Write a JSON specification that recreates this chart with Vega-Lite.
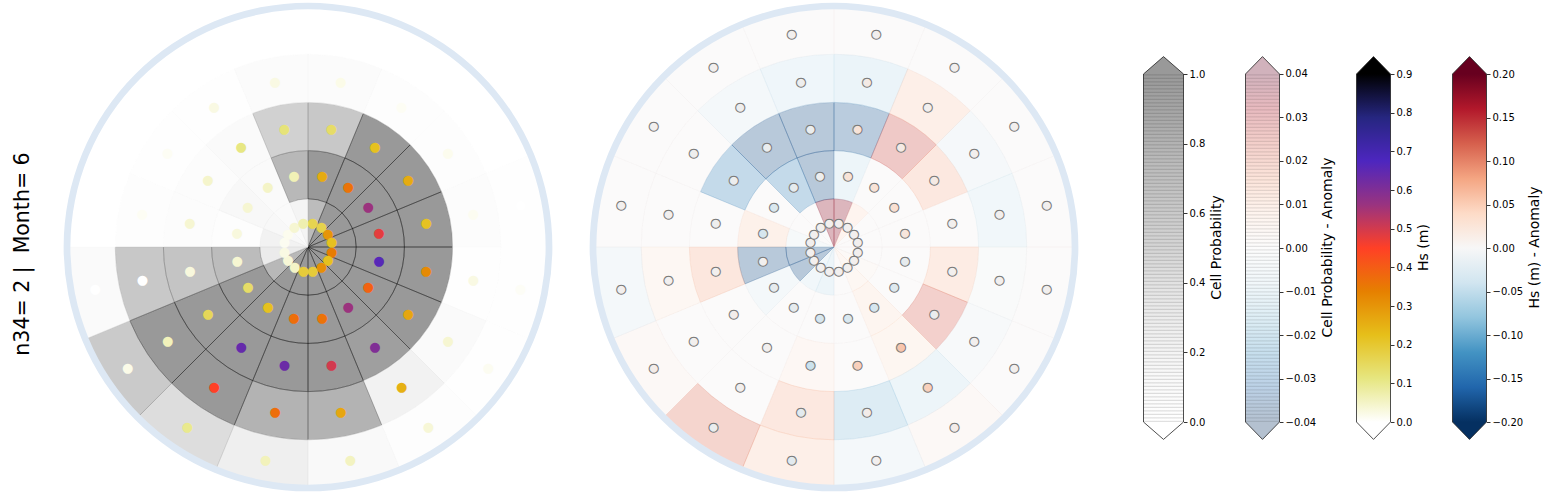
{
"$schema": "https://vega.github.io/schema/vega-lite/v6.json",
"padding": {"left": 12, "top": 2, "right": 5, "bottom": 2},
"background": "white",
"title": {"text": "n34= 2 |\u00a0 Month= 6", "orient": "left", "anchor": "middle", "fontSize": 20.5, "font": "DejaVu Sans", "fontWeight": "normal", "color": "#000", "offset": 30, "dx": -7},
"config": {"view": {"stroke": null}, "font": "DejaVu Sans"},
"datasets": {
"L": [
{"d":0,"d2":22.5,"dm":11.25,"r":0,"r2":1,"rm":0.5,"p":0.73,"hs":0.165},
{"d":22.5,"d2":45,"dm":33.75,"r":0,"r2":1,"rm":0.5,"p":1,"hs":0.17},
{"d":45,"d2":67.5,"dm":56.25,"r":0,"r2":1,"rm":0.5,"p":1,"hs":0.30},
{"d":67.5,"d2":90,"dm":78.75,"r":0,"r2":1,"rm":0.5,"p":1,"hs":0.22},
{"d":90,"d2":112.5,"dm":101.25,"r":0,"r2":1,"rm":0.5,"p":1,"hs":0.345},
{"d":112.5,"d2":135,"dm":123.75,"r":0,"r2":1,"rm":0.5,"p":1,"hs":0.22},
{"d":135,"d2":157.5,"dm":146.25,"r":0,"r2":1,"rm":0.5,"p":1,"hs":0.31},
{"d":157.5,"d2":180,"dm":168.75,"r":0,"r2":1,"rm":0.5,"p":1,"hs":0.19},
{"d":180,"d2":202.5,"dm":191.25,"r":0,"r2":1,"rm":0.5,"p":1,"hs":0.19},
{"d":202.5,"d2":225,"dm":213.75,"r":0,"r2":1,"rm":0.5,"p":1,"hs":0.05},
{"d":225,"d2":247.5,"dm":236.25,"r":0,"r2":1,"rm":0.5,"p":0.76,"hs":0.035},
{"d":247.5,"d2":270,"dm":258.75,"r":0,"r2":1,"rm":0.5,"p":0.30,"hs":0.025},
{"d":270,"d2":292.5,"dm":281.25,"r":0,"r2":1,"rm":0.5,"p":0.22,"hs":0.012},
{"d":292.5,"d2":315,"dm":303.75,"r":0,"r2":1,"rm":0.5,"p":0.14,"hs":0.015},
{"d":315,"d2":337.5,"dm":326.25,"r":0,"r2":1,"rm":0.5,"p":0.10,"hs":0.04},
{"d":337.5,"d2":360,"dm":348.75,"r":0,"r2":1,"rm":0.5,"p":0.19,"hs":0.07},
{"d":0,"d2":22.5,"dm":11.25,"r":1,"r2":2,"rm":1.5,"p":1,"hs":0.26},
{"d":22.5,"d2":45,"dm":33.75,"r":1,"r2":2,"rm":1.5,"p":1,"hs":0.36},
{"d":45,"d2":67.5,"dm":56.25,"r":1,"r2":2,"rm":1.5,"p":1,"hs":0.56},
{"d":67.5,"d2":90,"dm":78.75,"r":1,"r2":2,"rm":1.5,"p":1,"hs":0.48},
{"d":90,"d2":112.5,"dm":101.25,"r":1,"r2":2,"rm":1.5,"p":1,"hs":0.66},
{"d":112.5,"d2":135,"dm":123.75,"r":1,"r2":2,"rm":1.5,"p":1,"hs":0.39},
{"d":135,"d2":157.5,"dm":146.25,"r":1,"r2":2,"rm":1.5,"p":1,"hs":0.56},
{"d":157.5,"d2":180,"dm":168.75,"r":1,"r2":2,"rm":1.5,"p":1,"hs":0.36},
{"d":180,"d2":202.5,"dm":191.25,"r":1,"r2":2,"rm":1.5,"p":1,"hs":0.37},
{"d":202.5,"d2":225,"dm":213.75,"r":1,"r2":2,"rm":1.5,"p":1,"hs":0.22},
{"d":225,"d2":247.5,"dm":236.25,"r":1,"r2":2,"rm":1.5,"p":1,"hs":0.14},
{"d":247.5,"d2":270,"dm":258.75,"r":1,"r2":2,"rm":1.5,"p":0.73,"hs":0.04},
{"d":270,"d2":292.5,"dm":281.25,"r":1,"r2":2,"rm":1.5,"p":0.04,"hs":0.03},
{"d":292.5,"d2":315,"dm":303.75,"r":1,"r2":2,"rm":1.5,"p":0.14,"hs":0.04},
{"d":315,"d2":337.5,"dm":326.25,"r":1,"r2":2,"rm":1.5,"p":0.10,"hs":0.05},
{"d":337.5,"d2":360,"dm":348.75,"r":1,"r2":2,"rm":1.5,"p":0.76,"hs":0.065},
{"d":0,"d2":22.5,"dm":11.25,"r":2,"r2":3,"rm":2.5,"p":0.615,"hs":0.14},
{"d":22.5,"d2":45,"dm":33.75,"r":2,"r2":3,"rm":2.5,"p":1,"hs":0.22},
{"d":45,"d2":67.5,"dm":56.25,"r":2,"r2":3,"rm":2.5,"p":1,"hs":0.26},
{"d":67.5,"d2":90,"dm":78.75,"r":2,"r2":3,"rm":2.5,"p":1,"hs":0.215},
{"d":90,"d2":112.5,"dm":101.25,"r":2,"r2":3,"rm":2.5,"p":1,"hs":0.32},
{"d":112.5,"d2":135,"dm":123.75,"r":2,"r2":3,"rm":2.5,"p":1,"hs":0.27},
{"d":135,"d2":157.5,"dm":146.25,"r":2,"r2":3,"rm":2.5,"p":0.95,"hs":0.60},
{"d":157.5,"d2":180,"dm":168.75,"r":2,"r2":3,"rm":2.5,"p":1,"hs":0.50},
{"d":180,"d2":202.5,"dm":191.25,"r":2,"r2":3,"rm":2.5,"p":1,"hs":0.63},
{"d":202.5,"d2":225,"dm":213.75,"r":2,"r2":3,"rm":2.5,"p":1,"hs":0.64},
{"d":225,"d2":247.5,"dm":236.25,"r":2,"r2":3,"rm":2.5,"p":1,"hs":0.155},
{"d":247.5,"d2":270,"dm":258.75,"r":2,"r2":3,"rm":2.5,"p":0.65,"hs":0.03},
{"d":270,"d2":292.5,"dm":281.25,"r":2,"r2":3,"rm":2.5,"p":0.06,"hs":0.04},
{"d":292.5,"d2":315,"dm":303.75,"r":2,"r2":3,"rm":2.5,"p":0.06,"hs":0.045},
{"d":315,"d2":337.5,"dm":326.25,"r":2,"r2":3,"rm":2.5,"p":0.10,"hs":0.11},
{"d":337.5,"d2":360,"dm":348.75,"r":2,"r2":3,"rm":2.5,"p":0.54,"hs":0.12},
{"d":0,"d2":22.5,"dm":11.25,"r":3,"r2":4,"rm":3.5,"p":0.08,"hs":0.02},
{"d":22.5,"d2":45,"dm":33.75,"r":3,"r2":4,"rm":3.5,"p":0.04,"hs":0.01},
{"d":45,"d2":67.5,"dm":56.25,"r":3,"r2":4,"rm":3.5,"p":0.03,"hs":0.015},
{"d":67.5,"d2":90,"dm":78.75,"r":3,"r2":4,"rm":3.5,"p":0.06,"hs":0.012},
{"d":90,"d2":112.5,"dm":101.25,"r":3,"r2":4,"rm":3.5,"p":0.02,"hs":0.025},
{"d":112.5,"d2":135,"dm":123.75,"r":3,"r2":4,"rm":3.5,"p":0.10,"hs":0.04},
{"d":135,"d2":157.5,"dm":146.25,"r":3,"r2":4,"rm":3.5,"p":0.22,"hs":0.25},
{"d":157.5,"d2":180,"dm":168.75,"r":3,"r2":4,"rm":3.5,"p":0.80,"hs":0.27},
{"d":180,"d2":202.5,"dm":191.25,"r":3,"r2":4,"rm":3.5,"p":0.80,"hs":0.37},
{"d":202.5,"d2":225,"dm":213.75,"r":3,"r2":4,"rm":3.5,"p":1,"hs":0.45},
{"d":225,"d2":247.5,"dm":236.25,"r":3,"r2":4,"rm":3.5,"p":1,"hs":0.06},
{"d":247.5,"d2":270,"dm":258.75,"r":3,"r2":4,"rm":3.5,"p":0.615,"hs":0},
{"d":270,"d2":292.5,"dm":281.25,"r":3,"r2":4,"rm":3.5,"p":0.03,"hs":0.01},
{"d":292.5,"d2":315,"dm":303.75,"r":3,"r2":4,"rm":3.5,"p":0.02,"hs":0.01},
{"d":315,"d2":337.5,"dm":326.25,"r":3,"r2":4,"rm":3.5,"p":0.02,"hs":0.025},
{"d":337.5,"d2":360,"dm":348.75,"r":3,"r2":4,"rm":3.5,"p":0.08,"hs":0.025},
{"d":0,"d2":22.5,"dm":11.25,"r":4,"r2":5,"rm":4.5,"p":0,"hs":0},
{"d":22.5,"d2":45,"dm":33.75,"r":4,"r2":5,"rm":4.5,"p":0,"hs":0},
{"d":45,"d2":67.5,"dm":56.25,"r":4,"r2":5,"rm":4.5,"p":0,"hs":0},
{"d":67.5,"d2":90,"dm":78.75,"r":4,"r2":5,"rm":4.5,"p":0.02,"hs":0},
{"d":90,"d2":112.5,"dm":101.25,"r":4,"r2":5,"rm":4.5,"p":0.02,"hs":0.008},
{"d":112.5,"d2":135,"dm":123.75,"r":4,"r2":5,"rm":4.5,"p":0.02,"hs":0.012},
{"d":135,"d2":157.5,"dm":146.25,"r":4,"r2":5,"rm":4.5,"p":0.04,"hs":0.035},
{"d":157.5,"d2":180,"dm":168.75,"r":4,"r2":5,"rm":4.5,"p":0.12,"hs":0.055},
{"d":180,"d2":202.5,"dm":191.25,"r":4,"r2":5,"rm":4.5,"p":0.26,"hs":0.06},
{"d":202.5,"d2":225,"dm":213.75,"r":4,"r2":5,"rm":4.5,"p":0.44,"hs":0.10},
{"d":225,"d2":247.5,"dm":236.25,"r":4,"r2":5,"rm":4.5,"p":0.60,"hs":0.02},
{"d":247.5,"d2":270,"dm":258.75,"r":4,"r2":5,"rm":4.5,"p":0.10,"hs":0},
{"d":270,"d2":292.5,"dm":281.25,"r":4,"r2":5,"rm":4.5,"p":0,"hs":0},
{"d":292.5,"d2":315,"dm":303.75,"r":4,"r2":5,"rm":4.5,"p":0,"hs":0},
{"d":315,"d2":337.5,"dm":326.25,"r":4,"r2":5,"rm":4.5,"p":0,"hs":0},
{"d":337.5,"d2":360,"dm":348.75,"r":4,"r2":5,"rm":4.5,"p":0,"hs":0}
],
"R": [
{"d":0,"d2":22.5,"dm":11.25,"r":0,"r2":1,"rm":0.5,"p":0.04,"ha":0},
{"d":22.5,"d2":45,"dm":33.75,"r":0,"r2":1,"rm":0.5,"p":0.008,"ha":0},
{"d":45,"d2":67.5,"dm":56.25,"r":0,"r2":1,"rm":0.5,"p":0,"ha":0},
{"d":67.5,"d2":90,"dm":78.75,"r":0,"r2":1,"rm":0.5,"p":0,"ha":0},
{"d":90,"d2":112.5,"dm":101.25,"r":0,"r2":1,"rm":0.5,"p":0,"ha":0},
{"d":112.5,"d2":135,"dm":123.75,"r":0,"r2":1,"rm":0.5,"p":0.002,"ha":0},
{"d":135,"d2":157.5,"dm":146.25,"r":0,"r2":1,"rm":0.5,"p":0.005,"ha":0},
{"d":157.5,"d2":180,"dm":168.75,"r":0,"r2":1,"rm":0.5,"p":0,"ha":0},
{"d":180,"d2":202.5,"dm":191.25,"r":0,"r2":1,"rm":0.5,"p":-0.01,"ha":0},
{"d":202.5,"d2":225,"dm":213.75,"r":0,"r2":1,"rm":0.5,"p":-0.008,"ha":0},
{"d":225,"d2":247.5,"dm":236.25,"r":0,"r2":1,"rm":0.5,"p":-0.04,"ha":0},
{"d":247.5,"d2":270,"dm":258.75,"r":0,"r2":1,"rm":0.5,"p":-0.04,"ha":0},
{"d":270,"d2":292.5,"dm":281.25,"r":0,"r2":1,"rm":0.5,"p":-0.004,"ha":0},
{"d":292.5,"d2":315,"dm":303.75,"r":0,"r2":1,"rm":0.5,"p":0,"ha":0},
{"d":315,"d2":337.5,"dm":326.25,"r":0,"r2":1,"rm":0.5,"p":0,"ha":0},
{"d":337.5,"d2":360,"dm":348.75,"r":0,"r2":1,"rm":0.5,"p":0.04,"ha":0},
{"d":0,"d2":22.5,"dm":11.25,"r":1,"r2":2,"rm":1.5,"p":-0.01,"ha":0.025},
{"d":22.5,"d2":45,"dm":33.75,"r":1,"r2":2,"rm":1.5,"p":0,"ha":0.025},
{"d":45,"d2":67.5,"dm":56.25,"r":1,"r2":2,"rm":1.5,"p":0,"ha":0.03},
{"d":67.5,"d2":90,"dm":78.75,"r":1,"r2":2,"rm":1.5,"p":0,"ha":0.02},
{"d":90,"d2":112.5,"dm":101.25,"r":1,"r2":2,"rm":1.5,"p":0,"ha":-0.015},
{"d":112.5,"d2":135,"dm":123.75,"r":1,"r2":2,"rm":1.5,"p":0,"ha":-0.025},
{"d":135,"d2":157.5,"dm":146.25,"r":1,"r2":2,"rm":1.5,"p":0.007,"ha":-0.035},
{"d":157.5,"d2":180,"dm":168.75,"r":1,"r2":2,"rm":1.5,"p":0,"ha":-0.03},
{"d":180,"d2":202.5,"dm":191.25,"r":1,"r2":2,"rm":1.5,"p":0,"ha":-0.035},
{"d":202.5,"d2":225,"dm":213.75,"r":1,"r2":2,"rm":1.5,"p":0,"ha":-0.015},
{"d":225,"d2":247.5,"dm":236.25,"r":1,"r2":2,"rm":1.5,"p":-0.006,"ha":-0.015},
{"d":247.5,"d2":270,"dm":258.75,"r":1,"r2":2,"rm":1.5,"p":-0.04,"ha":0},
{"d":270,"d2":292.5,"dm":281.25,"r":1,"r2":2,"rm":1.5,"p":0.01,"ha":-0.035},
{"d":292.5,"d2":315,"dm":303.75,"r":1,"r2":2,"rm":1.5,"p":0,"ha":-0.03},
{"d":315,"d2":337.5,"dm":326.25,"r":1,"r2":2,"rm":1.5,"p":-0.03,"ha":-0.015},
{"d":337.5,"d2":360,"dm":348.75,"r":1,"r2":2,"rm":1.5,"p":-0.04,"ha":-0.005},
{"d":0,"d2":22.5,"dm":11.25,"r":2,"r2":3,"rm":2.5,"p":-0.038,"ha":0.025},
{"d":22.5,"d2":45,"dm":33.75,"r":2,"r2":3,"rm":2.5,"p":0.029,"ha":0.01},
{"d":45,"d2":67.5,"dm":56.25,"r":2,"r2":3,"rm":2.5,"p":0.015,"ha":0.01},
{"d":67.5,"d2":90,"dm":78.75,"r":2,"r2":3,"rm":2.5,"p":0,"ha":0},
{"d":90,"d2":112.5,"dm":101.25,"r":2,"r2":3,"rm":2.5,"p":0.013,"ha":0},
{"d":112.5,"d2":135,"dm":123.75,"r":2,"r2":3,"rm":2.5,"p":0.026,"ha":-0.01},
{"d":135,"d2":157.5,"dm":146.25,"r":2,"r2":3,"rm":2.5,"p":0.006,"ha":0.06},
{"d":157.5,"d2":180,"dm":168.75,"r":2,"r2":3,"rm":2.5,"p":0,"ha":0.05},
{"d":180,"d2":202.5,"dm":191.25,"r":2,"r2":3,"rm":2.5,"p":0.004,"ha":-0.045},
{"d":202.5,"d2":225,"dm":213.75,"r":2,"r2":3,"rm":2.5,"p":0,"ha":0},
{"d":225,"d2":247.5,"dm":236.25,"r":2,"r2":3,"rm":2.5,"p":0,"ha":0.003},
{"d":247.5,"d2":270,"dm":258.75,"r":2,"r2":3,"rm":2.5,"p":0.016,"ha":0},
{"d":270,"d2":292.5,"dm":281.25,"r":2,"r2":3,"rm":2.5,"p":0,"ha":-0.005},
{"d":292.5,"d2":315,"dm":303.75,"r":2,"r2":3,"rm":2.5,"p":-0.03,"ha":-0.008},
{"d":315,"d2":337.5,"dm":326.25,"r":2,"r2":3,"rm":2.5,"p":-0.04,"ha":-0.01},
{"d":337.5,"d2":360,"dm":348.75,"r":2,"r2":3,"rm":2.5,"p":-0.04,"ha":-0.01},
{"d":0,"d2":22.5,"dm":11.25,"r":3,"r2":4,"rm":3.5,"p":-0.011,"ha":0.01},
{"d":22.5,"d2":45,"dm":33.75,"r":3,"r2":4,"rm":3.5,"p":0.011,"ha":0},
{"d":45,"d2":67.5,"dm":56.25,"r":3,"r2":4,"rm":3.5,"p":-0.005,"ha":0},
{"d":67.5,"d2":90,"dm":78.75,"r":3,"r2":4,"rm":3.5,"p":-0.008,"ha":0},
{"d":90,"d2":112.5,"dm":101.25,"r":3,"r2":4,"rm":3.5,"p":-0.002,"ha":0},
{"d":112.5,"d2":135,"dm":123.75,"r":3,"r2":4,"rm":3.5,"p":-0.003,"ha":0},
{"d":135,"d2":157.5,"dm":146.25,"r":3,"r2":4,"rm":3.5,"p":-0.01,"ha":0.05},
{"d":157.5,"d2":180,"dm":168.75,"r":3,"r2":4,"rm":3.5,"p":-0.018,"ha":0.005},
{"d":180,"d2":202.5,"dm":191.25,"r":3,"r2":4,"rm":3.5,"p":0.015,"ha":-0.02},
{"d":202.5,"d2":225,"dm":213.75,"r":3,"r2":4,"rm":3.5,"p":0,"ha":0},
{"d":225,"d2":247.5,"dm":236.25,"r":3,"r2":4,"rm":3.5,"p":0,"ha":0},
{"d":247.5,"d2":270,"dm":258.75,"r":3,"r2":4,"rm":3.5,"p":0.005,"ha":0},
{"d":270,"d2":292.5,"dm":281.25,"r":3,"r2":4,"rm":3.5,"p":0,"ha":0},
{"d":292.5,"d2":315,"dm":303.75,"r":3,"r2":4,"rm":3.5,"p":0,"ha":-0.005},
{"d":315,"d2":337.5,"dm":326.25,"r":3,"r2":4,"rm":3.5,"p":-0.006,"ha":-0.005},
{"d":337.5,"d2":360,"dm":348.75,"r":3,"r2":4,"rm":3.5,"p":-0.009,"ha":-0.005},
{"d":0,"d2":22.5,"dm":11.25,"r":4,"r2":5,"rm":4.5,"p":0,"ha":0},
{"d":22.5,"d2":45,"dm":33.75,"r":4,"r2":5,"rm":4.5,"p":0,"ha":0},
{"d":45,"d2":67.5,"dm":56.25,"r":4,"r2":5,"rm":4.5,"p":0,"ha":0},
{"d":67.5,"d2":90,"dm":78.75,"r":4,"r2":5,"rm":4.5,"p":0,"ha":0},
{"d":90,"d2":112.5,"dm":101.25,"r":4,"r2":5,"rm":4.5,"p":0,"ha":0},
{"d":112.5,"d2":135,"dm":123.75,"r":4,"r2":5,"rm":4.5,"p":0,"ha":0},
{"d":135,"d2":157.5,"dm":146.25,"r":4,"r2":5,"rm":4.5,"p":0.003,"ha":0.005},
{"d":157.5,"d2":180,"dm":168.75,"r":4,"r2":5,"rm":4.5,"p":-0.006,"ha":0},
{"d":180,"d2":202.5,"dm":191.25,"r":4,"r2":5,"rm":4.5,"p":0.011,"ha":-0.02},
{"d":202.5,"d2":225,"dm":213.75,"r":4,"r2":5,"rm":4.5,"p":0.024,"ha":-0.01},
{"d":225,"d2":247.5,"dm":236.25,"r":4,"r2":5,"rm":4.5,"p":0.003,"ha":0.005},
{"d":247.5,"d2":270,"dm":258.75,"r":4,"r2":5,"rm":4.5,"p":-0.006,"ha":0},
{"d":270,"d2":292.5,"dm":281.25,"r":4,"r2":5,"rm":4.5,"p":0,"ha":0},
{"d":292.5,"d2":315,"dm":303.75,"r":4,"r2":5,"rm":4.5,"p":0,"ha":0},
{"d":315,"d2":337.5,"dm":326.25,"r":4,"r2":5,"rm":4.5,"p":0,"ha":0},
{"d":337.5,"d2":360,"dm":348.75,"r":4,"r2":5,"rm":4.5,"p":0,"ha":0}
],
"cb": [
{"name": "Cell Probability", "lo": 0, "hi": 1},
{"name": "Cell Probability - Anomaly", "lo": -0.04, "hi": 0.04},
{"name": "Hs (m)", "lo": 0, "hi": 0.9},
{"name": "Hs (m) - Anomaly", "lo": -0.2, "hi": 0.2}
]
},
"spacing": 62.5,
"resolve": {"scale": {"fill": "independent", "stroke": "independent", "color": "independent", "theta": "independent", "radius": "independent"}},
"hconcat": [
{"spacing": 36,
 "resolve": {"scale": {"fill": "independent", "stroke": "independent", "color": "independent", "theta": "independent", "radius": "independent"}},
 "hconcat": [
{
"width": 490, "height": 490,
"data": {"name": "L"},
"layer": [
{"mark": {"type": "arc", "fillOpacity": 0.4, "strokeOpacity": 0.4, "strokeWidth": 0.8},
 "encoding": {
  "theta": {"field": "d", "type": "quantitative", "stack": null, "scale": {"domain": [0, 360], "range": [0, 6.283185307179586]}},
  "theta2": {"field": "d2"},
  "radius": {"field": "r2", "type": "quantitative", "scale": {"type": "linear", "domain": [0, 5], "range": [0, 241], "zero": true, "nice": false}},
  "radius2": {"field": "r"},
  "fill": {"field": "p", "type": "quantitative", "scale": {"domain": [0, 0.125, 0.25, 0.375, 0.5, 0.625, 0.75, 0.875, 1], "range": ["#ffffff", "#f0f0f0", "#d9d9d9", "#bdbdbd", "#969696", "#737373", "#525252", "#252525", "#000000"], "interpolate": "rgb", "clamp": true}, "legend": null},
  "stroke": {"field": "p", "type": "quantitative", "scale": {"domain": [0, 0.125, 0.25, 0.375, 0.5, 0.625, 0.75, 0.875, 1], "range": ["#ffffff", "#f0f0f0", "#d9d9d9", "#bdbdbd", "#969696", "#737373", "#525252", "#252525", "#000000"], "interpolate": "rgb", "clamp": true}, "legend": null}
 }},
{"data": {"values": [{"spine": 1}]},
 "mark": {"type": "arc", "fill": "#dde8f4", "strokeWidth": 0},
 "encoding": {
  "theta": {"datum": 0, "type": "quantitative", "stack": null},
  "theta2": {"datum": 360},
  "radius": {"datum": 5.07, "type": "quantitative"},
  "radius2": {"datum": 4.93}
 }},
{"mark": {"type": "text", "text": "●", "fontSize": 13, "font": "DejaVu Sans", "align": "center", "baseline": "middle"},
 "encoding": {
  "theta": {"field": "dm", "type": "quantitative", "stack": null},
  "radius": {"field": "rm", "type": "quantitative"},
  "color": {"field": "hs", "type": "quantitative", "legend": null, "scale": {"domain": [0, 0.1125, 0.225, 0.3375, 0.45, 0.5625, 0.675, 0.7875, 0.9], "range": ["#ffffff", "#e6e680", "#e6bf1a", "#e68000", "#ff4026", "#993380", "#4d26bf", "#262680", "#000000"], "clamp": true, "interpolate": "rgb"}}
 }}
]
},
{
"width": 490, "height": 490,
"data": {"name": "R"},
"layer": [
{"mark": {"type": "arc", "fillOpacity": 0.3, "strokeOpacity": 0.3, "strokeWidth": 0.8},
 "encoding": {
  "theta": {"field": "d", "type": "quantitative", "stack": null, "scale": {"domain": [0, 360], "range": [0, 6.283185307179586]}},
  "theta2": {"field": "d2"},
  "radius": {"field": "r2", "type": "quantitative", "scale": {"type": "linear", "domain": [0, 5], "range": [0, 241], "zero": true, "nice": false}},
  "radius2": {"field": "r"},
  "fill": {"field": "p", "type": "quantitative", "scale": {"scheme": "redblue", "reverse": true, "domain": [-0.04, 0.04], "clamp": true}, "legend": null},
  "stroke": {"field": "p", "type": "quantitative", "scale": {"scheme": "redblue", "reverse": true, "domain": [-0.04, 0.04], "clamp": true}, "legend": null}
 }},
{"data": {"values": [{"spine": 1}]},
 "mark": {"type": "arc", "fill": "#dde8f4", "strokeWidth": 0},
 "encoding": {
  "theta": {"datum": 0, "type": "quantitative", "stack": null},
  "theta2": {"datum": 360},
  "radius": {"datum": 5.07, "type": "quantitative"},
  "radius2": {"datum": 4.93}
 }},
{"mark": {"type": "text", "text": "●", "fontSize": 12, "font": "DejaVu Sans", "align": "center", "baseline": "middle", "stroke": "#7a7a7a", "strokeWidth": 1},
 "encoding": {
  "theta": {"field": "dm", "type": "quantitative", "stack": null},
  "radius": {"field": "rm", "type": "quantitative"},
  "color": {"field": "ha", "type": "quantitative", "legend": null, "scale": {"scheme": "redblue", "reverse": true, "domain": [-0.2, 0.2], "clamp": true}}
 }}
]
}
]},
{"spacing": 19, "hconcat": [
{
"width": 40, "height": 490,
"data": {"name": "cb"},
"transform": [{"filter": "datum.name === 'Cell Probability'"}],
"layer": [
{"mark": {"type": "rect", "fill": {"gradient": "linear", "x1": 0, "y1": 1, "x2": 0, "y2": 0, "stops": [{"offset": 0, "color": "#ffffff"}, {"offset": 0.125, "color": "#f9f9f9"}, {"offset": 0.25, "color": "#f0f0f0"}, {"offset": 0.375, "color": "#e5e5e5"}, {"offset": 0.5, "color": "#d5d5d5"}, {"offset": 0.625, "color": "#c7c7c7"}, {"offset": 0.75, "color": "#bababa"}, {"offset": 0.875, "color": "#a8a8a8"}, {"offset": 1, "color": "#999999"}]}},
 "encoding": {
  "x": {"datum": 0, "type": "quantitative", "scale": {"domain": [0, 1], "nice": false, "zero": false}, "axis": null},
  "x2": {"datum": 1},
  "y": {"field": "lo", "type": "quantitative", "title": "Cell Probability", "scale": {"domain": [-0.2011, 1.2069], "nice": false, "zero": false},
   "axis": {"orient": "right", "values": [0, 0.2, 0.4, 0.6, 0.8, 1.0], "format": ".1f", "domain": false, "grid": false, "tickSize": 3.5, "tickColor": "#000", "tickWidth": 0.8, "labelFontSize": 10, "labelColor": "#000", "labelPadding": 2, "labelFont": "DejaVu Sans", "labelFlush": false, "labelOverlap": false, "title": "Cell Probability", "titleFontSize": 14, "titleFontWeight": "normal", "titleColor": "#000", "titleFont": "DejaVu Sans", "titleAngle": 270, "titleBaseline": "top", "titlePadding": 5}},
  "y2": {"field": "hi"}
 }},
{"mark": {"type": "rule", "stroke": "#000", "strokeOpacity": 0.12, "strokeWidth": 40, "strokeDash": [1.2, 2.3]},
 "encoding": {"x": {"datum": 0.5, "type": "quantitative", "axis": null}, "y": {"field": "lo", "type": "quantitative", "title": "Cell Probability"}, "y2": {"field": "hi"}}},
{"mark": {"type": "point", "shape": "M-1,0L0,-0.87L1,0Z", "size": 1600, "filled": true, "fill": "#999999", "opacity": 1, "strokeWidth": 0},
 "encoding": {"x": {"datum": 0.5, "type": "quantitative", "axis": null}, "y": {"field": "hi", "type": "quantitative", "title": "Cell Probability"}}},
{"mark": {"type": "point", "shape": "M-1,0L0,0.87L1,0Z", "size": 1600, "filled": true, "fill": "#ffffff", "opacity": 1, "strokeWidth": 0},
 "encoding": {"x": {"datum": 0.5, "type": "quantitative", "axis": null}, "y": {"field": "lo", "type": "quantitative", "title": "Cell Probability"}}},
{"mark": {"type": "point", "shape": "M-1,0L0,-0.87L1,0", "size": 1600, "filled": false, "stroke": "#222", "strokeWidth": 0.8, "opacity": 1},
 "encoding": {"x": {"datum": 0.5, "type": "quantitative", "axis": null}, "y": {"field": "hi", "type": "quantitative", "title": "Cell Probability"}}},
{"mark": {"type": "point", "shape": "M-1,0L0,0.87L1,0", "size": 1600, "filled": false, "stroke": "#222", "strokeWidth": 0.8, "opacity": 1},
 "encoding": {"x": {"datum": 0.5, "type": "quantitative", "axis": null}, "y": {"field": "lo", "type": "quantitative", "title": "Cell Probability"}}},
{"mark": {"type": "rule", "stroke": "#222", "strokeWidth": 0.8},
 "encoding": {"x": {"datum": 0, "type": "quantitative", "axis": null}, "y": {"field": "lo", "type": "quantitative", "title": "Cell Probability"}, "y2": {"field": "hi"}}},
{"mark": {"type": "rule", "stroke": "#222", "strokeWidth": 0.8},
 "encoding": {"x": {"datum": 1, "type": "quantitative", "axis": null}, "y": {"field": "lo", "type": "quantitative", "title": "Cell Probability"}, "y2": {"field": "hi"}}}
]
},
{
"width": 34, "height": 490,
"data": {"name": "cb"},
"transform": [{"filter": "datum.name === 'Cell Probability - Anomaly'"}],
"layer": [
{"mark": {"type": "rect", "fill": {"gradient": "linear", "x1": 0, "y1": 1, "x2": 0, "y2": 0, "stops": [{"offset": 0, "color": "#b4c1d0"}, {"offset": 0.1, "color": "#bcd1e6"}, {"offset": 0.2, "color": "#c7dfed"}, {"offset": 0.3, "color": "#deeef5"}, {"offset": 0.4, "color": "#f1f7fa"}, {"offset": 0.5, "color": "#fcfcfc"}, {"offset": 0.6, "color": "#fef4ee"}, {"offset": 0.7, "color": "#fce4da"}, {"offset": 0.8, "color": "#f3cfca"}, {"offset": 0.9, "color": "#e8babf"}, {"offset": 1, "color": "#d1b2bc"}]}},
 "encoding": {
  "x": {"datum": 0, "type": "quantitative", "scale": {"domain": [0, 1], "nice": false, "zero": false}, "axis": null},
  "x2": {"datum": 1},
  "y": {"field": "lo", "type": "quantitative", "title": "Cell Probability - Anomaly", "scale": {"domain": [-0.05609, 0.05655], "nice": false, "zero": false},
   "axis": {"orient": "right", "values": [-0.04, -0.03, -0.02, -0.01, 0, 0.01, 0.02, 0.03, 0.04], "format": ".2f", "domain": false, "grid": false, "tickSize": 3.5, "tickColor": "#000", "tickWidth": 0.8, "labelFontSize": 10, "labelColor": "#000", "labelPadding": 2, "labelFont": "DejaVu Sans", "labelFlush": false, "labelOverlap": false, "title": "Cell Probability - Anomaly", "titleFontSize": 14, "titleFontWeight": "normal", "titleColor": "#000", "titleFont": "DejaVu Sans", "titleAngle": 270, "titleBaseline": "top", "titlePadding": 5}},
  "y2": {"field": "hi"}
 }},
{"mark": {"type": "rule", "stroke": "#000", "strokeOpacity": 0.1, "strokeWidth": 34, "strokeDash": [1.2, 2.3]},
 "encoding": {"x": {"datum": 0.5, "type": "quantitative", "axis": null}, "y": {"field": "lo", "type": "quantitative", "title": "Cell Probability - Anomaly"}, "y2": {"field": "hi"}}},
{"mark": {"type": "point", "shape": "M-1,0L0,-1.024L1,0Z", "size": 1156, "filled": true, "fill": "#d1b2bc", "opacity": 1, "strokeWidth": 0},
 "encoding": {"x": {"datum": 0.5, "type": "quantitative", "axis": null}, "y": {"field": "hi", "type": "quantitative", "title": "Cell Probability - Anomaly"}}},
{"mark": {"type": "point", "shape": "M-1,0L0,1.024L1,0Z", "size": 1156, "filled": true, "fill": "#b4c1d0", "opacity": 1, "strokeWidth": 0},
 "encoding": {"x": {"datum": 0.5, "type": "quantitative", "axis": null}, "y": {"field": "lo", "type": "quantitative", "title": "Cell Probability - Anomaly"}}},
{"mark": {"type": "point", "shape": "M-1,0L0,-1.024L1,0", "size": 1156, "filled": false, "stroke": "#222", "strokeWidth": 0.8, "opacity": 1},
 "encoding": {"x": {"datum": 0.5, "type": "quantitative", "axis": null}, "y": {"field": "hi", "type": "quantitative", "title": "Cell Probability - Anomaly"}}},
{"mark": {"type": "point", "shape": "M-1,0L0,1.024L1,0", "size": 1156, "filled": false, "stroke": "#222", "strokeWidth": 0.8, "opacity": 1},
 "encoding": {"x": {"datum": 0.5, "type": "quantitative", "axis": null}, "y": {"field": "lo", "type": "quantitative", "title": "Cell Probability - Anomaly"}}},
{"mark": {"type": "rule", "stroke": "#222", "strokeWidth": 0.8},
 "encoding": {"x": {"datum": 0, "type": "quantitative", "axis": null}, "y": {"field": "lo", "type": "quantitative", "title": "Cell Probability - Anomaly"}, "y2": {"field": "hi"}}},
{"mark": {"type": "rule", "stroke": "#222", "strokeWidth": 0.8},
 "encoding": {"x": {"datum": 1, "type": "quantitative", "axis": null}, "y": {"field": "lo", "type": "quantitative", "title": "Cell Probability - Anomaly"}, "y2": {"field": "hi"}}}
]
},
{
"width": 34, "height": 490,
"data": {"name": "cb"},
"transform": [{"filter": "datum.name === 'Hs (m)'"}],
"layer": [
{"mark": {"type": "rect", "fill": {"gradient": "linear", "x1": 0, "y1": 1, "x2": 0, "y2": 0, "stops": [{"offset": 0, "color": "#ffffff"}, {"offset": 0.125, "color": "#e6e680"}, {"offset": 0.25, "color": "#e6bf1a"}, {"offset": 0.375, "color": "#e68000"}, {"offset": 0.5, "color": "#ff4026"}, {"offset": 0.625, "color": "#993380"}, {"offset": 0.75, "color": "#4d26bf"}, {"offset": 0.875, "color": "#262680"}, {"offset": 1, "color": "#000000"}]}},
 "encoding": {
  "x": {"datum": 0, "type": "quantitative", "scale": {"domain": [0, 1], "nice": false, "zero": false}, "axis": null},
  "x2": {"datum": 1},
  "y": {"field": "lo", "type": "quantitative", "title": "Hs (m)", "scale": {"domain": [-0.18103, 1.08621], "nice": false, "zero": false},
   "axis": {"orient": "right", "values": [0, 0.1, 0.2, 0.3, 0.4, 0.5, 0.6, 0.7, 0.8, 0.9], "format": ".1f", "domain": false, "grid": false, "tickSize": 3.5, "tickColor": "#000", "tickWidth": 0.8, "labelFontSize": 10, "labelColor": "#000", "labelPadding": 2, "labelFont": "DejaVu Sans", "labelFlush": false, "labelOverlap": false, "title": "Hs (m)", "titleFontSize": 14, "titleFontWeight": "normal", "titleColor": "#000", "titleFont": "DejaVu Sans", "titleAngle": 270, "titleBaseline": "top", "titlePadding": 5}},
  "y2": {"field": "hi"}
 }},
{"mark": {"type": "point", "shape": "M-1,0L0,-1.024L1,0Z", "size": 1156, "filled": true, "fill": "#000000", "opacity": 1, "strokeWidth": 0},
 "encoding": {"x": {"datum": 0.5, "type": "quantitative", "axis": null}, "y": {"field": "hi", "type": "quantitative", "title": "Hs (m)"}}},
{"mark": {"type": "point", "shape": "M-1,0L0,1.024L1,0Z", "size": 1156, "filled": true, "fill": "#ffffff", "opacity": 1, "strokeWidth": 0},
 "encoding": {"x": {"datum": 0.5, "type": "quantitative", "axis": null}, "y": {"field": "lo", "type": "quantitative", "title": "Hs (m)"}}},
{"mark": {"type": "point", "shape": "M-1,0L0,-1.024L1,0", "size": 1156, "filled": false, "stroke": "#222", "strokeWidth": 0.8, "opacity": 1},
 "encoding": {"x": {"datum": 0.5, "type": "quantitative", "axis": null}, "y": {"field": "hi", "type": "quantitative", "title": "Hs (m)"}}},
{"mark": {"type": "point", "shape": "M-1,0L0,1.024L1,0", "size": 1156, "filled": false, "stroke": "#222", "strokeWidth": 0.8, "opacity": 1},
 "encoding": {"x": {"datum": 0.5, "type": "quantitative", "axis": null}, "y": {"field": "lo", "type": "quantitative", "title": "Hs (m)"}}},
{"mark": {"type": "rule", "stroke": "#222", "strokeWidth": 0.8},
 "encoding": {"x": {"datum": 0, "type": "quantitative", "axis": null}, "y": {"field": "lo", "type": "quantitative", "title": "Hs (m)"}, "y2": {"field": "hi"}}},
{"mark": {"type": "rule", "stroke": "#222", "strokeWidth": 0.8},
 "encoding": {"x": {"datum": 1, "type": "quantitative", "axis": null}, "y": {"field": "lo", "type": "quantitative", "title": "Hs (m)"}, "y2": {"field": "hi"}}}
]
},
{
"width": 34, "height": 490,
"data": {"name": "cb"},
"transform": [{"filter": "datum.name === 'Hs (m) - Anomaly'"}],
"layer": [
{"mark": {"type": "rect", "fill": {"gradient": "linear", "x1": 0, "y1": 1, "x2": 0, "y2": 0, "stops": [{"offset": 0, "color": "#053061"}, {"offset": 0.1, "color": "#2166ac"}, {"offset": 0.2, "color": "#4393c3"}, {"offset": 0.3, "color": "#92c5de"}, {"offset": 0.4, "color": "#d1e5f0"}, {"offset": 0.5, "color": "#f7f7f7"}, {"offset": 0.6, "color": "#fddbc7"}, {"offset": 0.7, "color": "#f4a582"}, {"offset": 0.8, "color": "#d6604d"}, {"offset": 0.9, "color": "#b2182b"}, {"offset": 1, "color": "#67001f"}]}},
 "encoding": {
  "x": {"datum": 0, "type": "quantitative", "scale": {"domain": [0, 1], "nice": false, "zero": false}, "axis": null},
  "x2": {"datum": 1},
  "y": {"field": "lo", "type": "quantitative", "title": "Hs (m) - Anomaly", "scale": {"domain": [-0.28046, 0.28276], "nice": false, "zero": false},
   "axis": {"orient": "right", "values": [-0.2, -0.15, -0.1, -0.05, 0, 0.05, 0.1, 0.15, 0.2], "format": ".2f", "domain": false, "grid": false, "tickSize": 3.5, "tickColor": "#000", "tickWidth": 0.8, "labelFontSize": 10, "labelColor": "#000", "labelPadding": 2, "labelFont": "DejaVu Sans", "labelFlush": false, "labelOverlap": false, "title": "Hs (m) - Anomaly", "titleFontSize": 14, "titleFontWeight": "normal", "titleColor": "#000", "titleFont": "DejaVu Sans", "titleAngle": 270, "titleBaseline": "top", "titlePadding": 5}},
  "y2": {"field": "hi"}
 }},
{"mark": {"type": "point", "shape": "M-1,0L0,-1.024L1,0Z", "size": 1156, "filled": true, "fill": "#67001f", "opacity": 1, "strokeWidth": 0},
 "encoding": {"x": {"datum": 0.5, "type": "quantitative", "axis": null}, "y": {"field": "hi", "type": "quantitative", "title": "Hs (m) - Anomaly"}}},
{"mark": {"type": "point", "shape": "M-1,0L0,1.024L1,0Z", "size": 1156, "filled": true, "fill": "#053061", "opacity": 1, "strokeWidth": 0},
 "encoding": {"x": {"datum": 0.5, "type": "quantitative", "axis": null}, "y": {"field": "lo", "type": "quantitative", "title": "Hs (m) - Anomaly"}}},
{"mark": {"type": "point", "shape": "M-1,0L0,-1.024L1,0", "size": 1156, "filled": false, "stroke": "#222", "strokeWidth": 0.8, "opacity": 1},
 "encoding": {"x": {"datum": 0.5, "type": "quantitative", "axis": null}, "y": {"field": "hi", "type": "quantitative", "title": "Hs (m) - Anomaly"}}},
{"mark": {"type": "point", "shape": "M-1,0L0,1.024L1,0", "size": 1156, "filled": false, "stroke": "#222", "strokeWidth": 0.8, "opacity": 1},
 "encoding": {"x": {"datum": 0.5, "type": "quantitative", "axis": null}, "y": {"field": "lo", "type": "quantitative", "title": "Hs (m) - Anomaly"}}},
{"mark": {"type": "rule", "stroke": "#222", "strokeWidth": 0.8},
 "encoding": {"x": {"datum": 0, "type": "quantitative", "axis": null}, "y": {"field": "lo", "type": "quantitative", "title": "Hs (m) - Anomaly"}, "y2": {"field": "hi"}}},
{"mark": {"type": "rule", "stroke": "#222", "strokeWidth": 0.8},
 "encoding": {"x": {"datum": 1, "type": "quantitative", "axis": null}, "y": {"field": "lo", "type": "quantitative", "title": "Hs (m) - Anomaly"}, "y2": {"field": "hi"}}}
]
}
]}
]
}
